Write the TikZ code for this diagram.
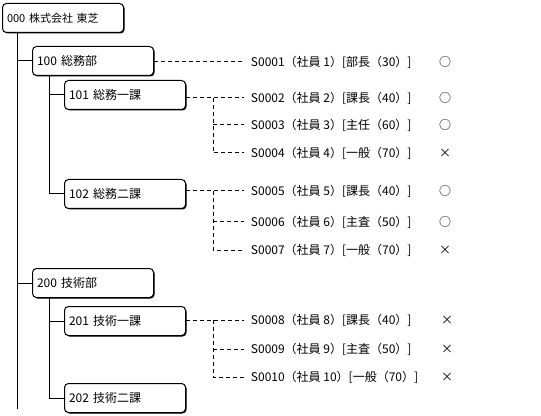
\documentclass[tikz,border=0pt]{standalone}
\usepackage{fontspec}
\newfontfamily\jpfont{Noto Sans CJK JP}
\usepackage{tikz}
\usetikzlibrary{positioning, shadows}

\begin{document}
\begin{tikzpicture}[
  x=0.75pt, y=-0.75pt,
  unit/.style={rectangle, draw, fill=white, rounded corners=3pt, line width=0.75pt,
               minimum width=90.75pt, minimum height=21.75pt, text width=84pt,
               inner xsep=3.4pt, align=left, anchor=north west,
               drop shadow={shadow xshift=0.75pt, shadow yshift=-0.75pt,
                            opacity=1, fill=black}},
  emp/.style={anchor=west, inner xsep=5pt},
  judge/.style={anchor=center, inner sep=0pt},
  tree/.style={line width=0.75pt},
  link/.style={line width=0.75pt, dash pattern=on 3pt off 2.25pt},
  every node/.style={font=\jpfont\fontsize{9}{10}\selectfont}
]
  \useasboundingbox (0,0) rectangle (541,416);

  % Company and departments
  \node[unit, font=\jpfont\fontsize{8.25}{10}\selectfont] (org) at (2,3) {000 株式会社 東芝};
  \node[unit] (d100) at (32,46)  {100 総務部};
  \node[unit] (s101) at (64,80)  {101 総務一課};
  \node[unit] (s102) at (64,179) {102 総務二課};
  \node[unit] (d200) at (32,268) {200 技術部};
  \node[unit] (s201) at (64,306) {201 技術一課};
  \node[unit] (s202) at (64,383) {202 技術二課};

  % Staff
  \node[emp] (e01) at (244,62)  {S0001（社員 1）[部長（30）]};
  \node[emp] (e02) at (244,98)  {S0002（社員 2）[課長（40）]};
  \node[emp] (e03) at (244,125) {S0003（社員 3）[主任（60）]};
  \node[emp] (e04) at (244,153) {S0004（社員 4）[一般（70）]};
  \node[emp] (e05) at (244,191) {S0005（社員 5）[課長（40）]};
  \node[emp] (e06) at (244,222) {S0006（社員 6）[主査（50）]};
  \node[emp] (e07) at (244,250) {S0007（社員 7）[一般（70）]};
  \node[emp] (e08) at (244,320) {S0008（社員 8）[課長（40）]};
  \node[emp] (e09) at (244,349) {S0009（社員 9）[主査（50）]};
  \node[emp] (e10) at (244,377) {S0010（社員 10）[一般（70）]};

  % Marks
  \node[judge] (m01) at (445,62)  {○};
  \node[judge] (m02) at (445,98)  {○};
  \node[judge] (m03) at (445,125) {○};
  \node[judge] (m04) at (445,153) {×};
  \node[judge] (m05) at (445,191) {○};
  \node[judge] (m06) at (445,222) {○};
  \node[judge] (m07) at (445,250) {×};
  \node[judge] (m08) at (447,320) {×};
  \node[judge] (m09) at (447,349) {×};
  \node[judge] (m10) at (447,377) {×};

  % Tree lines
  \coordinate (trunk) at (17,409);
  \coordinate (div) at (49,0);
  \coordinate (fork) at (213,0);
  \draw[tree] (org.south -| trunk) -- (trunk);
  \draw[tree] (trunk |- d100.west) -- (d100.west);
  \draw[tree] (trunk |- d200.west) -- (d200.west);
  \draw[tree] (d100.south -| div) |- (s102.west);
  \draw[tree] (div |- s101.west) -- (s101.west);
  \draw[tree] (d200.south -| div) |- (s202.west);
  \draw[tree] (div |- s201.west) -- (s201.west);

  % Staff links
  \draw[link] (d100.east |- e01) -- (e01.west);
  \draw[link] (s101.east |- e02) -- (e02.west);
  \draw[link] (fork |- e02) |- (e04.west);
  \draw[link] (fork |- e03) -- (e03.west);
  \draw[link] (s102.east |- e05) -- (e05.west);
  \draw[link] (fork |- e05) |- (e07.west);
  \draw[link] (fork |- e06) -- (e06.west);
  \draw[link] (s201.east |- e08) -- (e08.west);
  \draw[link] (fork |- e08) |- (e10.west);
  \draw[link] (fork |- e09) -- (e09.west);
\end{tikzpicture}
\end{document}
